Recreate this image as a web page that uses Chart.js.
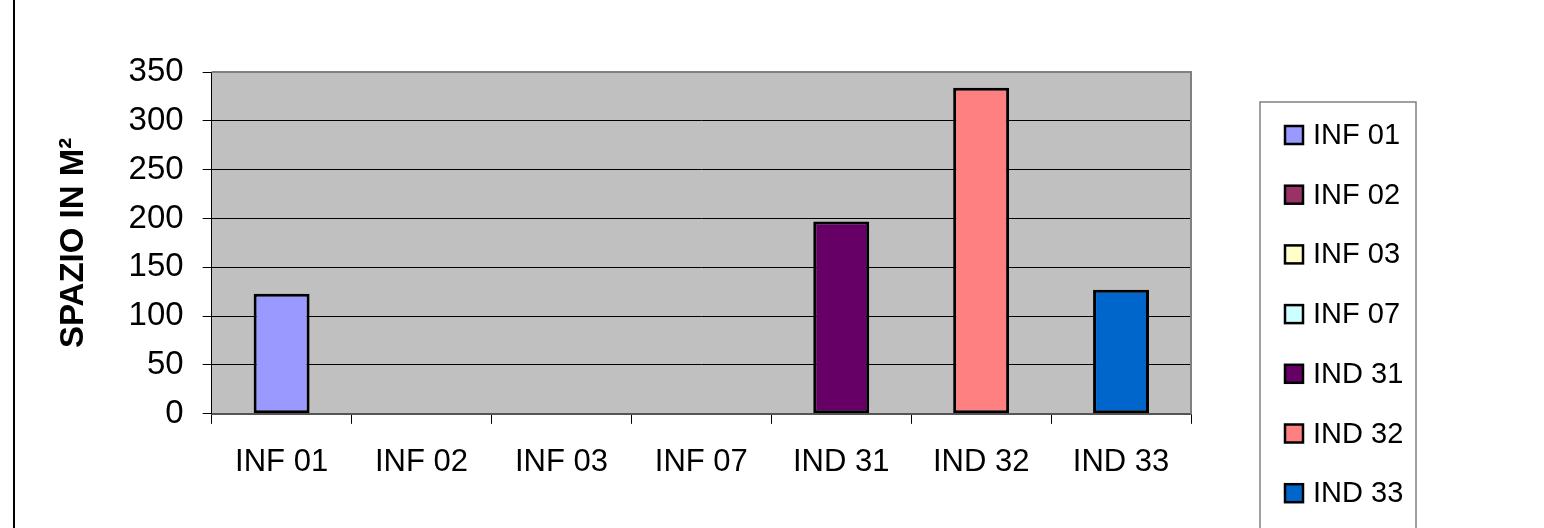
<!DOCTYPE html>
<html>
<head>
<meta charset="utf-8">
<script src="https://cdn.jsdelivr.net/npm/chart.js@4/dist/chart.umd.min.js"></script>
<style>
html,body{margin:0;padding:0;background:#fff;}
#wrap{width:1544px;height:528px;position:relative;}
</style>
</head>
<body>
<div id="wrap"><canvas id="c" width="1544" height="528"></canvas></div>
<script>
const categories = ['INF 01','INF 02','INF 03','INF 07','IND 31','IND 32','IND 33'];
const values = [123, 0, 0, 0, 197, 334, 127];
const colors = ['#9999FF','#993366','#FFFFCC','#CCFFFF','#660066','#FF8080','#0066CC'];
const yTicks = [0, 50, 100, 150, 200, 250, 300, 350];
const yTitle = 'SPAZIO IN M²';

const FONT = '"Liberation Sans", Arial, sans-serif';

const decor = {
  id: 'decor',
  beforeDraw(chart) {
    const {ctx, chartArea: a} = chart;
    ctx.save();
    ctx.fillStyle = '#C0C0C0';
    ctx.fillRect(a.left, a.top, a.right - a.left, a.bottom - a.top);
    ctx.restore();
  },
  afterDraw(chart) {
    const {ctx, chartArea: a} = chart;
    ctx.save();
    // outer left border
    ctx.fillStyle = '#000';
    ctx.fillRect(13, 0, 2, 528);
    // plot area top/right border
    ctx.strokeStyle = '#808080';
    ctx.lineWidth = 2;
    ctx.beginPath();
    ctx.moveTo(a.left, a.top);
    ctx.lineTo(a.right, a.top);
    ctx.lineTo(a.right, a.bottom);
    ctx.stroke();
    // legend
    const lx = 1260, ly = 102, lw = 156, lh = 460;
    ctx.fillStyle = '#fff';
    ctx.fillRect(lx, ly, lw, lh);
    ctx.strokeStyle = '#808080';
    ctx.lineWidth = 1.5;
    ctx.strokeRect(lx, ly, lw, lh);
    ctx.font = '29px ' + FONT;
    ctx.textBaseline = 'middle';
    ctx.textAlign = 'left';
    categories.forEach((c, i) => {
      const cy = 135 + i * 59.7;
      ctx.fillStyle = colors[i];
      ctx.fillRect(1285, cy - 9, 18, 18);
      ctx.strokeStyle = '#000';
      ctx.lineWidth = 2.5;
      ctx.strokeRect(1285, cy - 9, 18, 18);
      ctx.fillStyle = '#000';
      ctx.fillText(c, 1313, cy + 1);
    });
    ctx.restore();
  }
};

new Chart(document.getElementById('c'), {
  type: 'bar',
  data: {
    labels: categories,
    datasets: [{
      data: values,
      backgroundColor: colors,
      borderColor: '#000',
      borderWidth: 3,
      borderSkipped: false,
      barPercentage: 0.4,
      categoryPercentage: 1.0
    }]
  },
  options: {
    responsive: false,
    animation: false,
    devicePixelRatio: 1,
    layout: { padding: { top: 72, right: 353, bottom: 27, left: 0 } },
    plugins: { legend: { display: false }, tooltip: { enabled: false } },
    scales: {
      x: {
        grid: { offset: true, drawOnChartArea: false, drawTicks: true, tickLength: 10, color: '#000', lineWidth: 1 },
        border: { color: '#555', width: 2 },
        ticks: { color: '#000', font: { family: FONT, size: 31 }, padding: 20, maxRotation: 0 }
      },
      y: {
        min: 0, max: 350,
        afterBuildTicks(scale) { scale.ticks = yTicks.map(v => ({ value: v })); },
        grid: { color: '#000', lineWidth: 1, tickLength: 9 },
        border: { color: '#000', width: 1 },
        ticks: { color: '#000', font: { family: FONT, size: 33 }, padding: 19 },
        title: {
          display: true, text: yTitle, color: '#000',
          font: { family: FONT, size: 33, weight: 'bold' },
          padding: { top: 54, bottom: 16 }
        }
      }
    }
  },
  plugins: [decor]
});
</script>
</body>
</html>
